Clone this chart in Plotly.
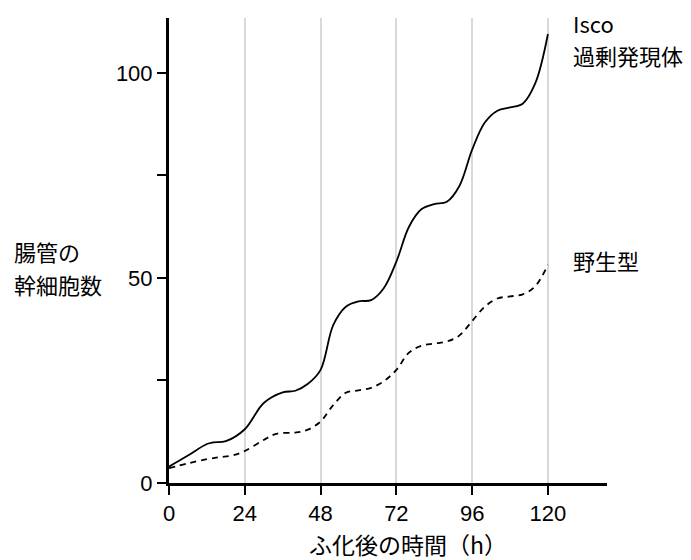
import plotly.graph_objects as go

# Data
hours = [0, 6, 12, 14, 18, 24, 30, 36, 40, 44, 48, 52, 56, 60, 64, 68, 72, 76, 80, 84, 88, 92, 96, 100, 104, 108, 112, 116, 120]
isco = [4.0, 6.7, 9.5, 9.9, 10.2, 13.1, 19.5, 22.1, 22.5, 24.2, 27.6, 38.5, 43.0, 44.3, 44.6, 47.5, 54.0, 62.5, 66.8, 68.0, 68.6, 72.5, 81.3, 87.9, 90.8, 91.6, 92.5, 97.5, 109.5]

hours_wt = [0, 6, 12, 16, 20, 24, 30, 34, 40, 44, 48, 52, 56, 60, 64, 68, 72, 76, 80, 84, 88, 92, 96, 100, 104, 108, 112, 116, 120]
wildtype = [3.6, 4.8, 5.8, 6.3, 6.7, 7.8, 10.5, 12.0, 12.3, 13.0, 15.0, 19.0, 22.0, 22.6, 23.2, 24.8, 27.6, 31.8, 33.5, 34.0, 34.5, 36.0, 39.5, 43.0, 45.0, 45.5, 46.0, 48.0, 53.2]

x_ticks = [0, 24, 48, 72, 96, 120]
y_ticks = [0, 25, 50, 75, 100]
y_tick_text = ["0", "", "50", "", "100"]

FONT_JP = "Noto Sans CJK JP"
FONT_NUM = "Liberation Sans, Arial, sans-serif"

fig = go.Figure()
fig.add_trace(go.Scatter(x=hours, y=isco, mode="lines",
                         line=dict(color="black", width=1.8, shape="spline", smoothing=1.0),
                         showlegend=False, hoverinfo="skip"))
fig.add_trace(go.Scatter(x=hours_wt, y=wildtype, mode="lines",
                         line=dict(color="black", width=1.8, shape="spline", smoothing=1.0, dash="6px,5px"),
                         showlegend=False, hoverinfo="skip"))


def label(text, x, y, anchor="left", size=22):
    return dict(text=text, xref="paper", yref="paper", x=x, y=y,
                xanchor=anchor, yanchor="middle", align=anchor, showarrow=False,
                font=dict(family=FONT_JP, size=size))


fig.update_layout(
    width=691, height=560,
    margin=dict(l=161, r=92, t=10, b=85),
    paper_bgcolor="white", plot_bgcolor="white",
    font=dict(family=FONT_NUM, size=22, color="black"),
    xaxis=dict(range=[0, 138.7], tickvals=x_ticks, ticks="outside", ticklen=9, tickwidth=1.5,
               tickcolor="black", showline=True, linecolor="black", linewidth=3,
               showgrid=True, gridcolor="#d9d9d9", gridwidth=1.5, zeroline=False,
               tickfont=dict(family=FONT_NUM, size=22)),
    yaxis=dict(range=[0, 113.4], tickvals=y_ticks, ticktext=y_tick_text, ticks="outside",
               ticklen=9, tickwidth=1.5, tickcolor="black", showline=True, linecolor="black",
               linewidth=3, showgrid=False, zeroline=False,
               tickfont=dict(family=FONT_NUM, size=22)),
    annotations=[
        label("ふ化後の時間（h）", 0.5457, -0.1317, anchor="center", size=23),
        label("腸管の", -0.358, 0.4989),
        label("幹細胞数", -0.358, 0.4280),
        label("Isco", 0.918, 0.9892),
        label("過剰発現体", 0.918, 0.9204),
        label("野生型", 0.918, 0.4796),
    ],
)

fig.write_html("out.html")
